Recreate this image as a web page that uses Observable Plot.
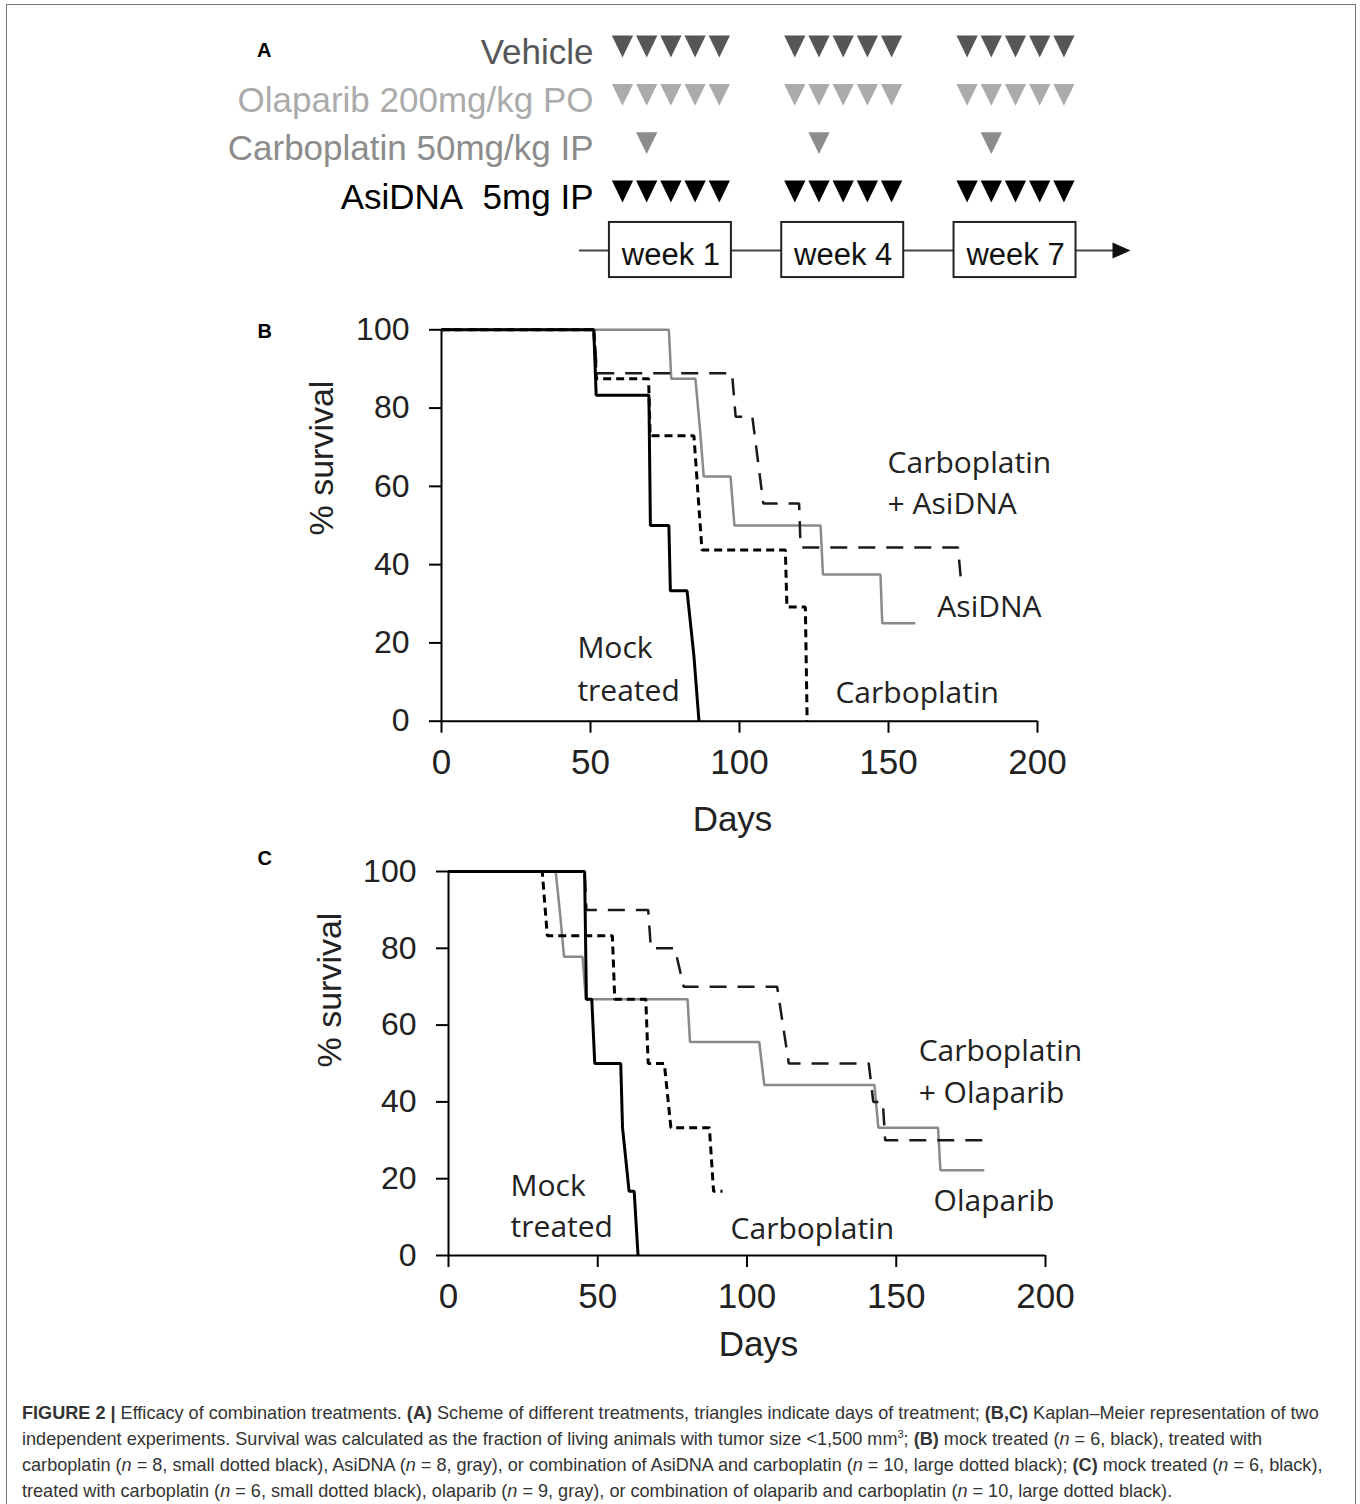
<!DOCTYPE html>
<html><head><meta charset="utf-8">
<script src="https://cdn.jsdelivr.net/npm/d3@7"></script>
<script src="https://cdn.jsdelivr.net/npm/@observablehq/plot@0.6"></script>
<style>
body{margin:0;background:#fff;}
#fig{position:relative;width:1360px;height:1504px;overflow:hidden;font-family:"Liberation Sans",Arial,sans-serif;background:#fff;}
#frame{position:absolute;left:6px;top:3.5px;width:1350px;height:1540px;border:1.5px solid #777;box-sizing:border-box;}
.panel{position:absolute;left:0;}
#caption{position:absolute;left:22px;top:1400px;font-size:18.1px;line-height:26px;color:#333;white-space:nowrap;}
#caption sup{font-size:11px;line-height:0;vertical-align:7px;}
</style></head>
<body><div id="fig"><div id="frame"></div>
<div id="pa" class="panel" style="top:0px"></div>
<div id="pb" class="panel" style="top:300px"></div>
<div id="pc" class="panel" style="top:850px"></div>
<div id="caption">
<div><b>FIGURE 2 |</b> Efficacy of combination treatments. <b>(A)</b> Scheme of different treatments, triangles indicate days of treatment; <b>(B,C)</b> Kaplan–Meier representation of two</div>
<div>independent experiments. Survival was calculated as the fraction of living animals with tumor size &lt;1,500 mm<sup>3</sup>; <b>(B)</b> mock treated (<i>n</i> = 6, black), treated with</div>
<div>carboplatin (<i>n</i> = 8, small dotted black), AsiDNA (<i>n</i> = 8, gray), or combination of AsiDNA and carboplatin (<i>n</i> = 10, large dotted black); <b>(C)</b> mock treated (<i>n</i> = 6, black),</div>
<div>treated with carboplatin (<i>n</i> = 6, small dotted black), olaparib (<i>n</i> = 9, gray), or combination of olaparib and carboplatin (<i>n</i> = 10, large dotted black).</div>
</div>
</div>
<script>
// ---------------- DATA ----------------
// Panel A: treatment scheme
const schemeRows = ["Vehicle", "Olaparib 200mg/kg PO", "Carboplatin 50mg/kg IP", "AsiDNA\u00a0 5mg IP"];
const schemeDoseDays = [[1,2,3,4,5],[1,2,3,4,5],[2],[1,2,3,4,5]];
const schemeWeeks = ["week 1", "week 4", "week 7"];

// Panel B: Kaplan–Meier vertices [day, % survival]
const B_mock = [[0,100],[51.1,100],[51.9,83.3],[69.6,83.3],[70.1,50],[76.3,50],[76.8,33.3],[82.4,33.3],[84.7,16.7],[86.4,0]];
const B_carboplatin = [[0,100],[51.1,100],[52,87.5],[69.5,87.5],[70,72.9],[84.7,72.9],[87.4,43.75],[115.4,43.75],[115.9,29.2],[122.1,29.2],[122.7,0]];
const B_asidna = [[0,100],[76.3,100],[77.1,87.5],[85.2,87.5],[86.7,75],[88,62.5],[97,62.5],[98.3,50],[127.2,50],[128,37.5],[147.3,37.5],[147.9,25],[159,25]];
const B_combo = [[0,100],[51.1,100],[52.2,88.9],[97.5,88.9],[98.7,77.8],[104.3,77.8],[108,55.6],[120,55.6],[120.5,44.4],[173.3,44.4],[174.2,37]];
const B_labels = [
  {text:"Carboplatin", day:149.7, surv:65.8},
  {text:"+ AsiDNA", day:149.7, surv:55.3},
  {text:"AsiDNA", day:166.4, surv:29},
  {text:"Carboplatin", day:132.2, surv:7.2},
  {text:"Mock", day:45.6, surv:18.5},
  {text:"treated", day:45.6, surv:7.7}
];

// Panel C
const C_mock = [[0,100],[45.6,100],[46.2,66.7],[48,66.7],[49,50],[57.7,50],[58.3,33.3],[60.5,16.7],[62.2,16.7],[63.5,0]];
const C_carboplatin = [[0,100],[31.4,100],[33.1,83.3],[54.9,83.3],[55.7,66.7],[66.1,66.7],[66.9,50],[72.3,50],[74.5,33.3],[87.4,33.3],[88.8,16.7],[91.8,16.7]];
const C_olaparib = [[0,100],[35.9,100],[37.4,88.9],[38.7,77.8],[44.9,77.8],[46,66.7],[80.1,66.7],[80.9,55.6],[104.1,55.6],[105.8,44.4],[142.7,44.4],[144,33.3],[164,33.3],[164.8,22.2],[179.5,22.2]];
const C_combo = [[0,100],[45.6,100],[46.2,90],[66.9,90],[67.8,80],[75.8,80],[78.8,70],[110.1,70],[114,50],[140.8,50],[142.3,40],[145.5,40],[146.3,30],[179.5,30]];
const C_labels = [
  {text:"Carboplatin", day:157.5, surv:53.2},
  {text:"+ Olaparib", day:157.5, surv:42.3},
  {text:"Olaparib", day:162.5, surv:14.2},
  {text:"Carboplatin", day:94.5, surv:6.9},
  {text:"Mock", day:20.8, surv:18.1},
  {text:"treated", day:20.8, surv:7.4}
];

const xTicks = [0, 50, 100, 150, 200];
const yTicks = [0, 20, 40, 60, 80, 100];

// ---------------- STYLE / LAYOUT ----------------
const FONT = '"Liberation Sans", Arial, sans-serif';
const LABEL_FONT = '"Open Sans", "Noto Sans", sans-serif';
const schemeColors = ["#565656", "#ababab", "#8c8c8c", "#000000"];
const WEEK_SLOT = 7.12;

const triDown = {draw(ctx, size) {
  const r = Math.sqrt(size / Math.PI), hw = r * 1.12, hh = r * 1.15;
  ctx.moveTo(-hw, -hh); ctx.lineTo(hw, -hh); ctx.lineTo(0, hh); ctx.closePath();
}};
const triRight = {draw(ctx, size) {
  const r = Math.sqrt(size / Math.PI);
  ctx.moveTo(-r, -r * 0.9); ctx.lineTo(r, 0); ctx.lineTo(-r, r * 0.9); ctx.closePath();
}};

// ---------------- PANEL A ----------------
const schemeDoses = schemeRows.flatMap((row, r) =>
  schemeWeeks.flatMap((w, g) => schemeDoseDays[r].map(day => ({row, r, g, day}))));

const plotA = Plot.plot({
  width: 1360, height: 300,
  marginLeft: 573.6, marginRight: 205.6, marginTop: 46, marginBottom: 50,
  x: {domain: [-2, 22], axis: null},
  y: {domain: [0, 4.22], axis: null, reverse: true},
  color: {domain: schemeRows, range: schemeColors},
  style: {fontFamily: FONT, background: "transparent", overflow: "visible"},
  marks: [
    Plot.ruleY([4.22], {x1: -1.78, x2: 20.3, stroke: "#444", strokeWidth: 2}),
    Plot.dot([0], {x: 20.62, y: 4.22, symbol: triRight, r: 9, fill: "#111", stroke: "none"}),
    Plot.rect(schemeWeeks, {x1: (d, i) => i * WEEK_SLOT - 0.54, x2: (d, i) => i * WEEK_SLOT + 4.5, y1: 3.64, y2: 4.78, fill: "white", stroke: "#222", strokeWidth: 2}),
    Plot.text(schemeWeeks, {x: (d, i) => i * WEEK_SLOT + 2, y: 4.22, text: d => d, fontSize: 31, fill: "#111", dy: 5}),
    Plot.dot(schemeDoses, {x: d => d.g * WEEK_SLOT + (d.day - 1), y: d => d.r, symbol: triDown, r: 9.5, fill: d => d.row, stroke: "none"}),
    Plot.text(schemeRows, {x: 0, y: (d, i) => i, text: d => d, fill: d => d, textAnchor: "end", dx: -29, dy: 6, fontSize: 35}),
    Plot.text(["A"], {frameAnchor: "top-left", lineAnchor: "middle", dx: -317, dy: 4, fontSize: 20, fontWeight: "bold", fill: "#000"})
  ]
});
document.getElementById("pa").appendChild(plotA);

// ---------------- PANELS B & C ----------------
function styleAxes(svg) {
  const s = d3.select(svg);
  s.selectAll('g[aria-label^="x-axis"] text').style("font-size", "35px").attr("fill", "#222");
  s.selectAll('g[aria-label^="y-axis"] text').style("font-size", "32px").attr("fill", "#222");
  s.selectAll('g[aria-label^="x-axis"], g[aria-label^="y-axis"]').attr("stroke-width", 2);
}

function survivalPanel(el, cfg) {
  const line = (data, o) => Plot.line(data, {x: d => d[0], y: d => d[1], strokeLinejoin: "miter", strokeLinecap: "butt", ...o});
  const svg = Plot.plot({
    width: 1360, height: cfg.height,
    marginLeft: cfg.ml, marginRight: cfg.mr, marginTop: cfg.mt, marginBottom: cfg.mb,
    x: {domain: [0, 200], ticks: xTicks, tickSize: 12, tickPadding: 16, label: null},
    y: {domain: [0, 100], ticks: yTicks, tickSize: 12, tickPadding: 20, label: null},
    style: {fontFamily: FONT, background: "transparent", overflow: "visible", color: "#000"},
    marks: [
      line(cfg.gray, {stroke: "#8a8a8a", strokeWidth: 2.5}),
      line(cfg.combo, {stroke: "#1a1a1a", strokeWidth: 2.5, strokeDasharray: "17,11"}),
      line(cfg.carbo, {stroke: "#000", strokeWidth: 3, strokeDasharray: "8,5"}),
      line(cfg.mock, {stroke: "#000", strokeWidth: 3}),
      Plot.ruleY([0], {stroke: "#000", strokeWidth: 2}),
      Plot.ruleX([0], {stroke: "#000", strokeWidth: 2}),
      Plot.text(cfg.labels, {x: "day", y: "surv", text: "text", textAnchor: "start", lineAnchor: "middle", fontSize: 30, fontFamily: LABEL_FONT, fill: "#222"}),
      Plot.text(["Days"], {frameAnchor: "bottom", lineAnchor: "middle", dx: cfg.daysDx, dy: cfg.daysDy, fontSize: 35, fill: "#222"}),
      Plot.text(["% survival"], {frameAnchor: "left", lineAnchor: "middle", dx: cfg.survDx, dy: cfg.survDy, rotate: -90, fontSize: 34, fill: "#222"}),
      Plot.text([cfg.letter], {frameAnchor: "top-left", lineAnchor: "middle", dx: cfg.letterDx, dy: cfg.letterDy, fontSize: 20, fontWeight: "bold", fill: "#000"})
    ]
  });
  styleAxes(svg);
  el.appendChild(svg);
}

survivalPanel(document.getElementById("pb"), {
  height: 550, ml: 441, mr: 323, mt: 29.3, mb: 129.3,
  gray: B_asidna, combo: B_combo, carbo: B_carboplatin, mock: B_mock, labels: B_labels,
  daysDx: -7, daysDy: 99, survDx: -119, survDy: 10, letter: "B", letterDx: -184, letterDy: 2
});
survivalPanel(document.getElementById("pc"), {
  height: 540, ml: 448, mr: 315, mt: 21, mb: 135,
  gray: C_olaparib, combo: C_combo, carbo: C_carboplatin, mock: C_mock, labels: C_labels,
  daysDx: 11.5, daysDy: 89, survDx: -118, survDy: 4, letter: "C", letterDx: -191, letterDy: -13
});
</script>
</body></html>
